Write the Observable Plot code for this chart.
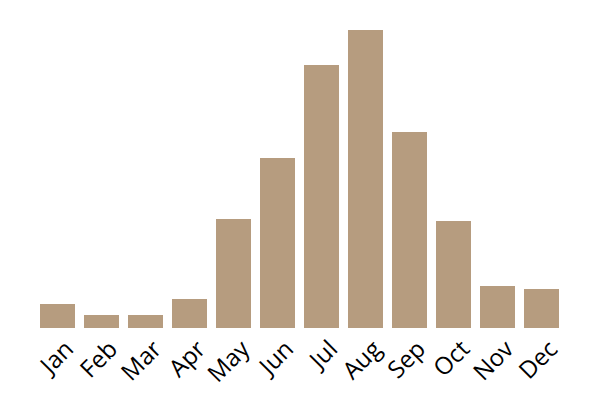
<!DOCTYPE html>
<html>
<head>
<meta charset="utf-8">
<script src="https://cdn.jsdelivr.net/npm/d3@7"></script>
<script src="https://cdn.jsdelivr.net/npm/@observablehq/plot@0.6"></script>
<style>
  html, body { margin: 0; padding: 0; background: #fff; }
</style>
</head>
<body>
<div id="chart"></div>
<script>
const months = ["Jan", "Feb", "Mar", "Apr", "May", "Jun", "Jul", "Aug", "Sep", "Oct", "Nov", "Dec"];
const values = [24, 13, 13, 29, 109, 170, 263, 298, 196, 107, 42, 39];

const data = months.map((m, i) => ({month: m, value: values[i]}));

const chart = Plot.plot({
  width: 600,
  height: 400,
  marginTop: 30,
  marginBottom: 72,
  marginLeft: 26,
  marginRight: 26,
  style: {fontFamily: "Open Sans, sans-serif", background: "#fff"},
  x: {domain: months, padding: 0.2, axis: null},
  y: {domain: [0, 298], axis: null},
  marks: [
    Plot.barY(data, {x: "month", y: "value", fill: "#b69c7f"}),
    Plot.text(months, {
      x: d => d, y: 0, text: d => d,
      rotate: -45, textAnchor: "end", lineAnchor: "bottom",
      dx: 17, dy: 22, fontSize: 24, fill: "#000",
      fontFamily: "Open Sans, sans-serif"
    })
  ]
});
document.getElementById("chart").appendChild(chart);
</script>
</body>
</html>
